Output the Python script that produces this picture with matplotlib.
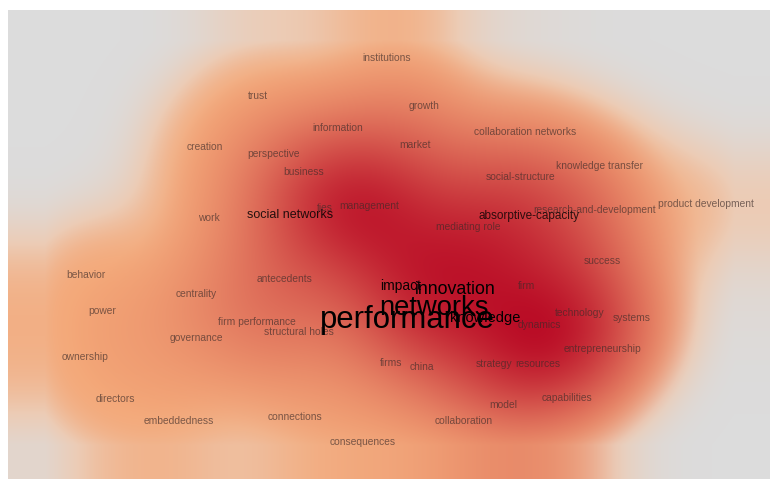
import matplotlib.pyplot as plt
import numpy as np
from matplotlib.colors import LinearSegmentedColormap

# keyword co-occurrence map: label centres (map units), occurrences, link strength
labels = [
    "institutions", "trust", "growth", "information", "collaboration networks",
    "creation", "market", "perspective", "business", "knowledge transfer",
    "social-structure", "product development", "research-and-development",
    "absorptive-capacity", "ties", "management", "social networks", "work",
    "mediating role", "success", "behavior", "antecedents", "centrality",
    "impact", "innovation", "firm", "power", "networks", "performance",
    "knowledge", "technology", "systems", "firm performance", "dynamics",
    "structural holes", "governance", "entrepreneurship", "ownership", "firms",
    "china", "strategy", "resources", "directors", "capabilities", "model",
    "embeddedness", "connections", "collaboration", "consequences",
]
map_x = [387, 258, 424, 338, 525, 205, 415, 274, 304, 600,
         521, 706, 595, 529, 325, 369, 290, 209, 468, 602,
         86, 285, 196, 401, 455, 527, 102, 434, 407, 485,
         580, 632, 257, 539, 299, 196, 603, 85, 391, 422,
         494, 538, 115, 567, 503, 179, 295, 464, 363]
map_y = [58, 96, 106, 128, 132, 147, 145, 154, 172, 166,
         177, 204, 210, 216, 208, 206, 215, 218, 227, 261,
         275, 279, 294, 286, 289, 286, 311, 308, 320, 318,
         313, 318, 322, 325, 332, 338, 349, 357, 363, 367,
         364, 364, 399, 398, 405, 421, 417, 421, 442]
occurrences = [20, 22, 25, 28, 26, 24, 30, 28, 30, 28,
               30, 22, 40, 74, 40, 50, 81, 25, 35, 28,
               24, 32, 30, 95, 139, 35, 24, 272, 330, 103,
               35, 30, 35, 40, 38, 30, 38, 24, 35, 30,
               35, 38, 24, 30, 28, 28, 28, 30, 26]
link_strength = [15, 15, 20, 20, 22, 16, 34, 18, 20, 22,
                 30, 15, 35, 45, 42, 110, 28, 18, 80, 25,
                 12, 35, 20, 60, 32, 32, 12, 26, 28, 22,
                 36, 28, 26, 48, 26, 20, 48, 12, 18, 15,
                 28, 48, 12, 28, 24, 14, 18, 18, 14]

W, H = 770, 479
fig = plt.figure(figsize=(W / 100, H / 100), dpi=100)
ax = fig.add_axes([8 / W, 0, 762 / W, 469 / H])

# evaluate inside the item box, edge-extended outside it
px = np.arange(8, W) + 0.5
py = np.arange(10, H) + 0.5
gx, gy = np.meshgrid(np.clip(px, 45, 735), np.clip(py, 40, 445))

cover = np.zeros_like(gx)
dens = np.zeros_like(gx)
for x, y, w in zip(map_x, map_y, link_strength):
    r2 = (gx - x) ** 2 + (gy - y) ** 2
    cover += np.exp(-r2 / (2 * 52 ** 2))
    dens += w * np.exp(-r2 / (2 * 55 ** 2))
cover = 1 - np.exp(-(cover / 1.15) ** 1.8)
dens /= dens.max()

# grey -> peach where items are, red on top by weighted density
base_cmap = LinearSegmentedColormap.from_list(
    "base", [(0.0, "#dcdcdc"), (0.5, "#ecccb6"), (1.0, "#f4a878")])
base = base_cmap(cover)[..., :3]
red = np.array([0.73, 0.05, 0.15])
a = np.clip((dens - 0.13) / 0.87, 0, 1) ** 1.05
rgb = base * (1 - a[..., None]) + red * a[..., None]

ax.imshow(rgb, extent=(8, W, H, 10), interpolation="bilinear", aspect="auto")

# labels: size and opacity grow with occurrences, heavier items on top
order = np.argsort(occurrences)
for z, i in enumerate(order):
    size = max(7.4, 7.4 * (occurrences[i] / 60) ** 0.65)
    alpha = min(1.0, 0.65 + 0.35 * (size - 7.4) / 3)
    color = "#3a2a28" if size <= 7.4 else "black"
    ax.text(map_x[i], map_y[i], labels[i], ha="center", va="center",
            fontsize=size, family="Liberation Sans", color=color,
            alpha=alpha, zorder=3 + z)

ax.set_xlim(8, W)
ax.set_ylim(H, 10)
ax.axis("off")
fig.savefig("out.png", dpi=100)
